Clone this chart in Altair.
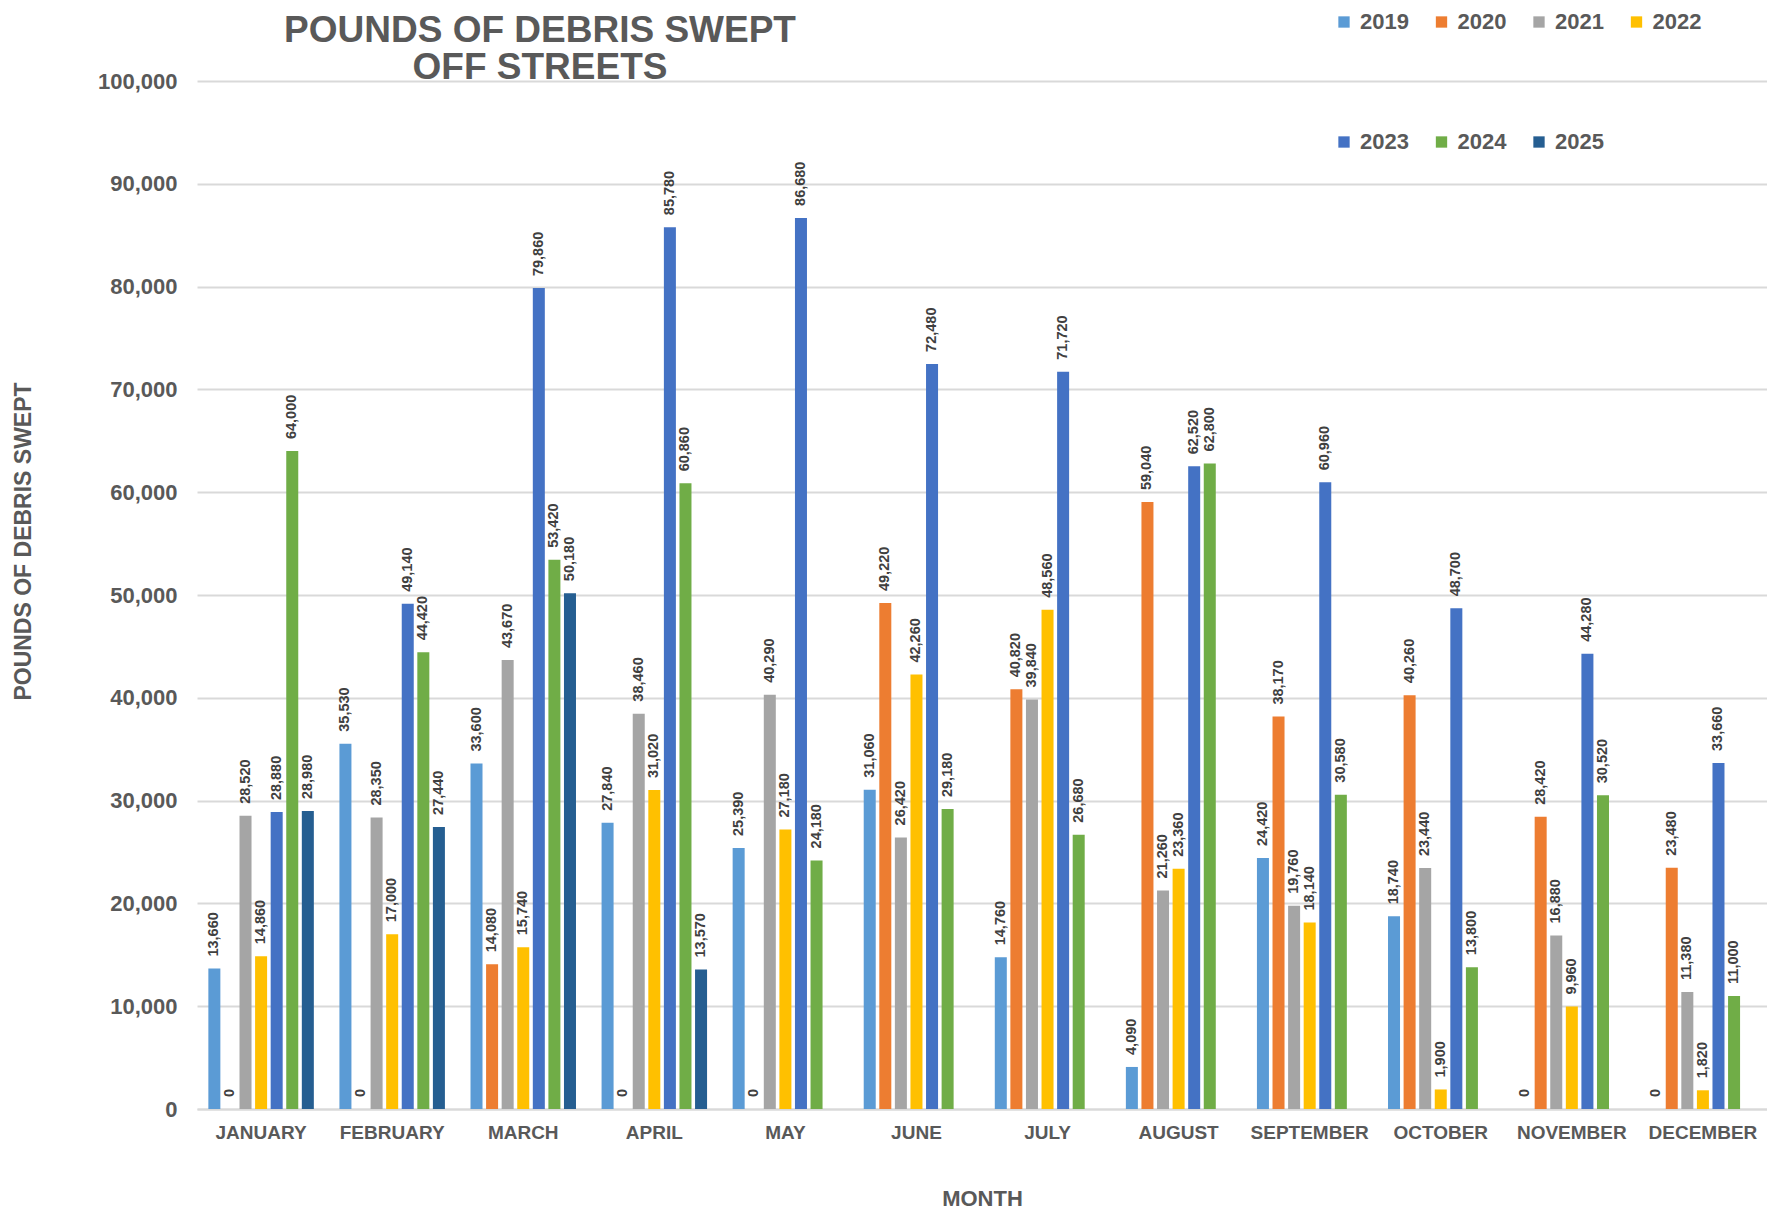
import altair as alt
import pandas as pd

FONT = "Liberation Sans, Arial, sans-serif"

months = ["JANUARY", "FEBRUARY", "MARCH", "APRIL", "MAY", "JUNE", "JULY",
          "AUGUST", "SEPTEMBER", "OCTOBER", "NOVEMBER", "DECEMBER"]
years = ["2019", "2020", "2021", "2022", "2023", "2024", "2025"]
colors = ["#5B9BD5", "#ED7D31", "#A5A5A5", "#FFC000", "#4472C4", "#70AD47", "#255E91"]

v2019 = [13660, 35530, 33600, 27840, 25390, 31060, 14760, 4090, 24420, 18740, 0, 0]
v2020 = [0, 0, 14080, 0, 0, 49220, 40820, 59040, 38170, 40260, 28420, 23480]
v2021 = [28520, 28350, 43670, 38460, 40290, 26420, 39840, 21260, 19760, 23440, 16880, 11380]
v2022 = [14860, 17000, 15740, 31020, 27180, 42260, 48560, 23360, 18140, 1900, 9960, 1820]
v2023 = [28880, 49140, 79860, 85780, 86680, 72480, 71720, 62520, 60960, 48700, 44280, 33660]
v2024 = [64000, 44420, 53420, 60860, 24180, 29180, 26680, 62800, 30580, 13800, 30520, 11000]
v2025 = [28980, 27440, 50180, 13570, None, None, None, None, None, None, None, None]

series = {"2019": v2019, "2020": v2020, "2021": v2021, "2022": v2022,
          "2023": v2023, "2024": v2024, "2025": v2025}

rows = []
for yr, vals in series.items():
    for m, v in zip(months, vals):
        if v is not None:
            rows.append({"month": m, "year": yr, "value": v})
df = pd.DataFrame(rows)

W, H = 1570, 1028

base = alt.Chart(df).encode(
    x=alt.X(
        "month:N", sort=months, title="MONTH",
        scale=alt.Scale(domain=months, paddingInner=0.168, paddingOuter=0.073),
        axis=alt.Axis(labelAngle=0, labelFontSize=19, labelFontWeight="bold",
                      labelColor="#595959", labelPadding=14, ticks=False,
                      domain=True, domainColor="#D9D9D9", domainWidth=2, grid=False,
                      titleFontSize=22, titleFontWeight="bold", titleColor="#595959",
                      titleX=W / 2, titleY=96, titleAlign="center",
                      titleBaseline="alphabetic"),
    ),
    xOffset=alt.XOffset("year:N", scale=alt.Scale(domain=years, paddingInner=0.229,
                                                    paddingOuter=0.1145)),
    y=alt.Y(
        "value:Q", title="POUNDS OF DEBRIS SWEPT",
        scale=alt.Scale(domain=[0, 100000], nice=False),
        axis=alt.Axis(values=list(range(0, 100001, 10000)), format=",.0f",
                      labelFontSize=22, labelFontWeight="bold", labelColor="#595959",
                      labelPadding=20, ticks=False, domain=False, grid=True,
                      gridColor="#D9D9D9", gridWidth=2,
                      titleFontSize=23, titleFontWeight="bold", titleColor="#595959",
                      titleAngle=270, titleX=-174, titleY=460, titleAlign="center",
                      titleBaseline="middle"),
    ),
)

bars = base.mark_bar().encode(
    color=alt.Color(
        "year:N", scale=alt.Scale(domain=years, range=colors),
        legend=alt.Legend(title=None, orient="none", legendX=1136, legendY=-70,
                          direction="horizontal", columns=4, symbolType="square",
                          symbolSize=128, symbolStrokeWidth=0, labelFontSize=22,
                          labelFontWeight="bold", labelColor="#595959",
                          labelOffset=5, columnPadding=21.5, rowPadding=98, padding=0),
    )
)

labels = base.mark_text(angle=270, align="left", baseline="middle", dx=12,
                        fontSize=14.5, fontWeight="bold", color="#404040").encode(
    text=alt.Text("value:Q", format=",.0f")
)

chart = alt.layer(bars, labels).properties(
    width=W, height=H,
    title=alt.Title(text=["POUNDS OF DEBRIS SWEPT", "OFF STREETS"], fontSize=37,
                    fontWeight="bold", color="#595959", anchor="middle",
                    dx=-442, dy=80, lineHeight=37, frame="group", offset=4),
    autosize=alt.AutoSizeParams(type="none"),
    padding={"left": 189, "top": 73, "right": 0, "bottom": 100},
).configure(font=FONT).configure_view(stroke=None)

chart.save("out.html", embed_options={"renderer": "svg", "actions": False})
